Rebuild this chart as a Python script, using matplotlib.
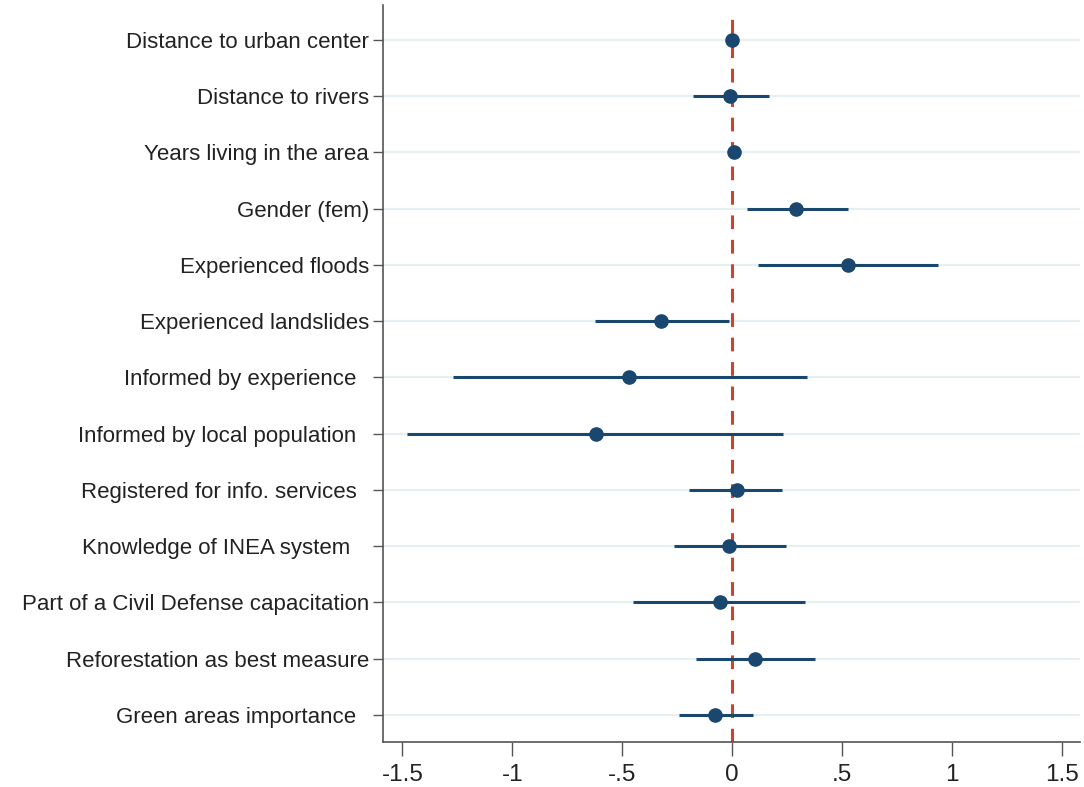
import matplotlib.pyplot as plt
import numpy as np

plt.rcParams['font.family'] = ['Liberation Sans', 'DejaVu Sans']

labels = ['Distance to urban center', 'Distance to rivers', 'Years living in the area',
          'Gender (fem)', 'Experienced floods', 'Experienced landslides',
          'Informed by experience  ', 'Informed by local population  ',
          'Registered for info. services  ', 'Knowledge of INEA system   ',
          'Part of a Civil Defense capacitation', 'Reforestation as best measure',
          'Green areas importance  ']
coef = [0.0, -0.01, 0.01, 0.29, 0.525, -0.325, -0.47, -0.62, 0.02, -0.015, -0.055, 0.105, -0.08]
ci_low = [-0.004, -0.18, 0.006, 0.065, 0.115, -0.625, -1.27, -1.48, -0.195, -0.265, -0.45, -0.165, -0.24]
ci_high = [0.004, 0.165, 0.014, 0.525, 0.935, -0.015, 0.34, 0.23, 0.225, 0.245, 0.33, 0.375, 0.095]
xticks = [-1.5, -1, -0.5, 0, 0.5, 1, 1.5]
xticklabels = ['-1.5', '-1', '-.5', '0', '.5', '1', '1.5']

navy = '#1a476f'
fig = plt.figure(figsize=(10.84, 7.87), dpi=100)
ax = fig.add_axes([0.353, 0.0572, 0.643, 0.9366])

ypos = np.arange(len(labels))
# grid lines
for y in ypos:
    ax.axhline(y, color='#e6eff1', lw=1.6, zorder=0)

# zero reference line
ax.axvline(0, ymin=0, ymax=0.988, color='#c9452e', lw=2.2, dashes=(4.5, 3.5), zorder=1)

ax.hlines(ypos, ci_low, ci_high, color=navy, lw=2.2, zorder=2)
ax.plot(coef, ypos, 'o', color=navy, ms=9.5, zorder=3)

ax.set_xlim(-1.59, 1.58)
ax.set_ylim(12.48, -0.62)
ax.set_yticks(ypos, labels, fontsize=16, color='#222222')
ax.set_xticks(xticks, xticklabels, fontsize=17.5, color='#222222')
ax.tick_params(axis='y', length=7, width=1, color='#555555', pad=3)
ax.tick_params(axis='x', length=10, width=1, color='#555555', pad=6)

for s in ['top', 'right']:
    ax.spines[s].set_visible(False)
for s in ['left', 'bottom']:
    ax.spines[s].set_color('#555555')
    ax.spines[s].set_linewidth(1.2)

fig.savefig('out.png', dpi=100)
